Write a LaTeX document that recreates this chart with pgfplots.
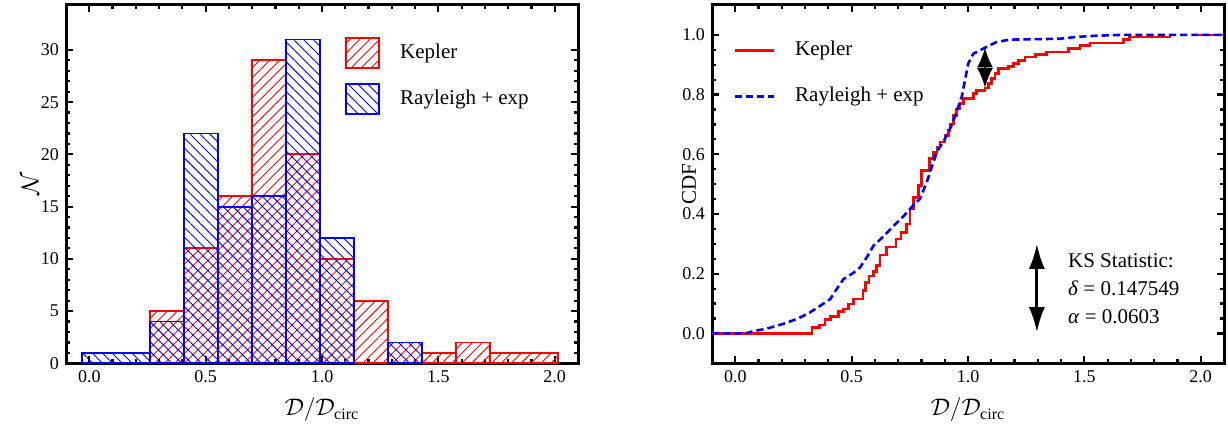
\documentclass[border=0pt]{standalone}
\usepackage{fontspec}
\setmainfont{Liberation Serif}
\usepackage{amsmath}
\usepackage{pgfplots}
\pgfplotsset{compat=1.18}
\usetikzlibrary{patterns.meta, arrows.meta}

\pgfplotsset{
 mystyle/.style={
  scale only axis, width=256pt, height=179.15pt,
  xmin=-0.1, xmax=2.1,
  axis line style={line width=1.5pt},
  tick style={line width=1.1pt, black},
  major tick length=3.5pt, minor tick length=2pt,
  tick align=inside, xtick pos=both, ytick pos=both,
  xticklabel pos=lower, yticklabel pos=left,
  xtick={0,0.5,1,1.5,2}, minor x tick num=4,
  xticklabel style={/pgf/number format/.cd, fixed, fixed zerofill, precision=1},
  /pgf/number format/assume math mode=true,
  tick label style={font=\fontsize{9}{10}\selectfont},
  label style={font=\fontsize{12}{14}\selectfont},
  xlabel={$\mathcal{D}/\mathcal{D}_{\text{circ}}$},
  x label style={at={(axis description cs:0.5,-0.13)}, anchor=center},
  legend cell align=left,
  legend style={draw=none, fill=none, font=\fontsize{10.5}{12}\selectfont,
    inner sep=0pt, nodes={inner sep=0pt},
    anchor=north west, /tikz/every odd column/.append style={column sep=10pt}},
 },
 boxlegend/.style={legend image code/.code={\draw[##1] (0pt,-7.5pt) rectangle (16.5pt,7.5pt);}},
 linelegend/.style={legend image code/.code={\path[draw=none,fill=none,pattern=none] (0pt,-7.5pt) rectangle (19.5pt,7.5pt);
     \draw[##1, line width=1.4pt] (0pt,0pt) -- (19.5pt,0pt);}},
}

\begin{document}
\begin{tikzpicture}
% ---------------- left: histogram ----------------
\begin{axis}[mystyle, at={(33pt,32.85pt)}, anchor=south west,
  ymin=0, ymax=34.3, ytick={0,5,10,15,20,25,30}, minor y tick num=4,
  ylabel={$\mathcal{N}$},
  y label style={at={(axis description cs:-0.07,0.5)}, anchor=center},
  legend style={at={(0.545,0.911)}, row sep=7pt},
]
\addplot[ybar interval, draw=red, line width=0.9pt,
  pattern={Lines[angle=45, distance=3.5pt, line width=0.45pt]}, pattern color=red,
  boxlegend]
  coordinates {(0.261,5)(0.407,11)(0.553,16)(0.699,29)(0.845,20)(0.991,10)(1.137,6)
               (1.283,2)(1.429,1)(1.575,2)(1.721,1)(2.013,1)};
\addlegendentry{Kepler}
\addplot[ybar interval, draw=blue, line width=0.9pt,
  pattern={Lines[angle=-45, distance=3.5pt, line width=0.45pt]}, pattern color=blue,
  boxlegend]
  coordinates {(-0.031,1)(0.261,4)(0.407,22)(0.553,15)(0.699,16)(0.845,31)(0.991,12)(1.137,0)};
\addlegendentry{Rayleigh + exp}
\addplot[ybar interval, draw=blue, line width=0.9pt, forget plot,
  pattern={Lines[angle=-45, distance=3.5pt, line width=0.45pt]}, pattern color=blue]
  coordinates {(1.283,2)(1.429,2)};
\end{axis}

% ---------------- right: CDF ----------------
\begin{axis}[mystyle, at={(356pt,32.85pt)}, anchor=south west,
  ymin=-0.1, ymax=1.1, ytick={0,0.2,0.4,0.6,0.8,1.0}, minor y tick num=3,
  yticklabel style={/pgf/number format/.cd, fixed, fixed zerofill, precision=1},
  ylabel={CDF},
  y label style={at={(axis description cs:-0.045,0.5)}, anchor=center, font=\fontsize{10.5}{12}\selectfont},
  legend style={at={(0.041,0.917)}, row sep=8pt},
  linelegend,
]
\addplot[red, line width=1.3pt, const plot] coordinates {
(-0.1,0) (0.329,0.019) (0.362,0.028) (0.386,0.046) (0.408,0.057) (0.443,0.073)
(0.465,0.082) (0.486,0.098) (0.508,0.115) (0.548,0.143) (0.560,0.171) (0.575,0.193)
(0.595,0.208) (0.608,0.227) (0.622,0.263) (0.651,0.289) (0.690,0.316) (0.712,0.339)
(0.737,0.367) (0.751,0.417) (0.765,0.456) (0.787,0.495) (0.801,0.546) (0.835,0.585)
(0.851,0.607) (0.866,0.624) (0.880,0.641) (0.901,0.663) (0.916,0.680) (0.923,0.702)
(0.937,0.730) (0.951,0.752) (0.966,0.770) (0.980,0.786) (1.023,0.803) (1.037,0.814)
(1.073,0.822) (1.088,0.837) (1.102,0.853) (1.116,0.870) (1.130,0.887) (1.173,0.894)
(1.195,0.904) (1.216,0.915) (1.245,0.926) (1.290,0.935) (1.338,0.943) (1.431,0.954)
(1.481,0.964) (1.524,0.973) (1.667,0.984) (1.695,0.993) (1.874,0.993)};
\addlegendentry{Kepler}
\addplot[red, line width=1.3pt, forget plot] coordinates {(1.99,1) (2.1,1)};
\addplot[blue, line width=1.3pt, dash pattern=on 3.6pt off 2pt] coordinates {
(-0.1,0) (0.043,0) (0.08,0.008) (0.136,0.016) (0.21,0.033) (0.27,0.05) (0.32,0.07)
(0.36,0.09) (0.408,0.115) (0.436,0.149) (0.465,0.182) (0.508,0.203) (0.536,0.221)
(0.565,0.255) (0.594,0.294) (0.637,0.325) (0.68,0.36) (0.72,0.39) (0.758,0.423)
(0.794,0.451) (0.823,0.507) (0.844,0.557) (0.866,0.607) (0.901,0.652) (0.93,0.697)
(0.951,0.742) (0.973,0.792) (0.987,0.848) (1.001,0.904) (1.023,0.937) (1.073,0.957)
(1.123,0.976) (1.18,0.984) (1.395,0.987) (1.466,0.993) (1.55,0.997) (1.667,1.0) (2.1,1.0)};
\addlegendentry{Rayleigh + exp}
\draw[line width=1.3pt, {Latex[length=10pt,width=8pt]}-{Latex[length=10pt,width=8pt]}]
  (axis cs:1.073,0.822) -- (axis cs:1.073,0.958);
\draw[line width=1.4pt, {Latex[length=12.5pt,width=8pt]}-{Latex[length=12.5pt,width=8pt]}]
  (axis cs:1.296,0.004) -- (axis cs:1.296,0.30);
\node[anchor=west, align=left, font=\fontsize{10.5}{14}\selectfont]
  at (axis cs:1.40,0.149) {KS Statistic:\\\textit{δ} = 0.147549\\\textit{α} = 0.0603};
\end{axis}
\pgfresetboundingbox
\path[use as bounding box] (0,0) rectangle (614pt,214.5pt);
\end{tikzpicture}
\end{document}
